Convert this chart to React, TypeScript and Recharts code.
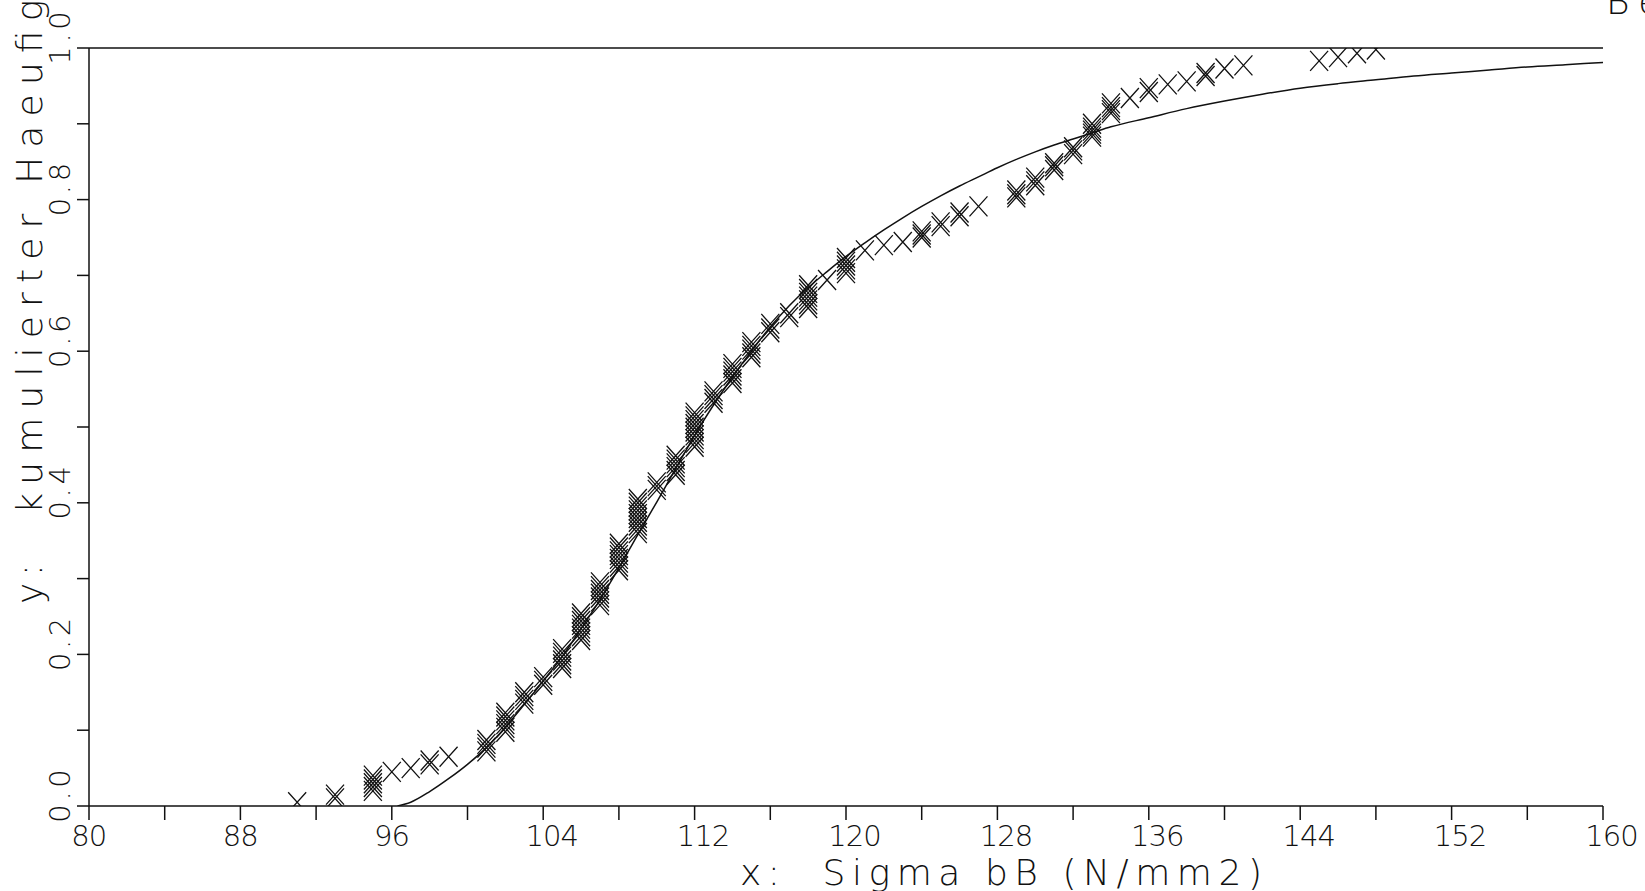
import { ComposedChart, Line, Scatter, XAxis, YAxis, ReferenceLine } from "recharts"

// measured values: one x (N/mm2) per group, cumulative frequencies of the points at that x
const SIGMA = [
  91, 93, 95, 96, 97, 98, 99, 101, 102, 103, 104, 105, 106, 107, 108, 109, 110,
  111, 112, 113, 114, 115, 116, 117, 118, 119, 120, 121, 122, 123, 124, 125, 126,
  127, 129, 130, 131, 132, 133, 134, 135, 136, 137, 138, 139, 140, 141, 145, 146,
  147, 148,
]
const CUM_HAEUF = [
  [0.005],
  [0.01, 0.015],
  [0.02, 0.025, 0.03, 0.035, 0.04],
  [0.045],
  [0.05],
  [0.055, 0.06],
  [0.065],
  [0.072, 0.077, 0.082, 0.087],
  [0.098, 0.103, 0.108, 0.113, 0.118, 0.123],
  [0.135, 0.14, 0.145, 0.15],
  [0.16, 0.165, 0.17],
  [0.182, 0.187, 0.192, 0.197, 0.202, 0.207],
  [0.219, 0.224, 0.229, 0.234, 0.239, 0.244, 0.249, 0.254],
  [0.265, 0.27, 0.275, 0.28, 0.285, 0.29, 0.295],
  [0.311, 0.316, 0.321, 0.326, 0.331, 0.336, 0.341, 0.346],
  [0.36, 0.365, 0.37, 0.375, 0.38, 0.385, 0.39, 0.395, 0.4, 0.405],
  [0.417, 0.422, 0.427],
  [0.437, 0.442, 0.447, 0.452, 0.457, 0.462],
  [0.474, 0.479, 0.484, 0.489, 0.494, 0.499, 0.504, 0.509, 0.514, 0.519],
  [0.532, 0.537, 0.542, 0.547],
  [0.558, 0.563, 0.568, 0.573, 0.578, 0.583],
  [0.592, 0.597, 0.602, 0.607, 0.612],
  [0.625, 0.63, 0.636],
  [0.645, 0.65],
  [0.657, 0.662, 0.667, 0.672, 0.677, 0.682, 0.687],
  [0.694],
  [0.703, 0.708, 0.713, 0.718, 0.723],
  [0.733],
  [0.74],
  [0.744],
  [0.75, 0.754, 0.758],
  [0.765, 0.77],
  [0.778, 0.783],
  [0.791],
  [0.803, 0.807, 0.812],
  [0.819, 0.824, 0.829],
  [0.839, 0.844, 0.848],
  [0.86, 0.865, 0.869],
  [0.883, 0.887, 0.891, 0.895, 0.9],
  [0.914, 0.918, 0.922, 0.927],
  [0.934],
  [0.942, 0.947],
  [0.952],
  [0.956],
  [0.963, 0.967],
  [0.973],
  [0.977],
  [0.983],
  [0.988],
  [0.993],
  [0.998],
]

// fitted distribution curve
const FIT_X = [
  96.3, 97, 98, 99, 100, 101, 102, 103, 104, 105, 106, 107, 108, 109, 110, 111,
  112, 113, 114, 115, 116, 117, 118, 119, 120, 121, 122, 123, 124, 125, 126, 127,
  128, 129, 130, 131, 132, 133, 134, 136, 138, 140, 142, 144, 146, 148, 150, 152,
  154, 156, 158, 160,
]
const FIT_Y = [
  0, 0.005, 0.019, 0.036, 0.055, 0.077, 0.104, 0.134, 0.165, 0.197, 0.234, 0.272,
  0.314, 0.358, 0.401, 0.445, 0.489, 0.529, 0.566, 0.6, 0.632, 0.66, 0.684, 0.705,
  0.725, 0.743, 0.76, 0.776, 0.791, 0.805, 0.818, 0.83, 0.842, 0.853, 0.863, 0.872,
  0.88, 0.888, 0.896, 0.908, 0.92, 0.93, 0.939, 0.947, 0.953, 0.958, 0.963, 0.967,
  0.971, 0.975, 0.978, 0.981,
]

const X_TICKS = [80, 84, 88, 92, 96, 100, 104, 108, 112, 116, 120, 124, 128, 132, 136, 140, 144, 148, 152, 156, 160]
const Y_TICKS = [0, 0.1, 0.2, 0.3, 0.4, 0.5, 0.6, 0.7, 0.8, 0.9, 1.0]

const points = SIGMA.flatMap((x, i) => CUM_HAEUF[i].map((y) => ({ x, y })))
const fit = FIT_X.map((x, i) => ({ x, y: FIT_Y[i] }))

const INK = "#111"
const FONT = "'DejaVu Sans', sans-serif"

// plotter digits: every character centred in a fixed-width cell
const cells = (s: string, first: number, pitch: number) =>
  Array.from(s, (_, i) => (first + i * pitch).toFixed(1)).join(" ")

const Cross = (props: any) => {
  const { cx, cy } = props
  if (cx == null || cy == null) return null
  return (
    <path
      d={`M${cx - 9},${cy - 10}L${cx + 9},${cy + 10}M${cx + 9},${cy - 10}L${cx - 9},${cy + 10}`}
      stroke={INK}
      strokeWidth={1.3}
      fill="none"
    />
  )
}

const XTick = (props: any) => {
  const { x, payload } = props
  if (payload.value % 8 !== 0) return null
  const s = String(payload.value)
  return (
    <text
      x={cells(s, x - 8.5, 17.5)}
      y={846}
      fontFamily={FONT}
      fontWeight={200}
      fontSize={29}
      fill={INK}
      textAnchor="middle"
    >
      {s}
    </text>
  )
}

const YTick = (props: any) => {
  const { y, payload } = props
  if (Math.round(payload.value * 10) % 2 !== 0) return null
  const s = payload.value.toFixed(1)
  return (
    <text
      transform={`translate(70, ${y}) rotate(-90)`}
      x={cells(s, -7.5, 17.5)}
      y={0}
      fontFamily={FONT}
      fontWeight={200}
      fontSize={29}
      fill={INK}
      textAnchor="middle"
    >
      {s}
    </text>
  )
}

const Title = ({ text, transform }: { text: string; transform: string }) => (
  <text
    transform={transform}
    fontFamily={FONT}
    fontWeight={200}
    fontSize={36}
    fill={INK}
    xmlSpace="preserve"
    textLength={text.length * 26.4 - 6}
    lengthAdjust="spacing"
  >
    {text}
  </text>
)

export default function App() {
  return (
    <div style={{ position: "absolute", left: 0, top: 0, width: 1645, height: 891, background: "#fff" }}>
      <ComposedChart width={1645} height={891} margin={{ top: 48, right: 42, bottom: 0, left: 0 }}>
        <XAxis
          dataKey="x"
          type="number"
          domain={[80, 160]}
          ticks={X_TICKS}
          allowDataOverflow
          height={85}
          tickSize={14}
          stroke={INK}
          strokeWidth={1.5}
          tick={<XTick />}
        />
        <YAxis
          type="number"
          domain={[0, 1]}
          ticks={Y_TICKS}
          allowDataOverflow
          width={89}
          tickSize={12}
          stroke={INK}
          strokeWidth={1.5}
          tick={<YTick />}
        />
        <ReferenceLine y={1} stroke={INK} strokeWidth={1.5} />
        <Line
          data={fit}
          dataKey="y"
          type="monotone"
          stroke={INK}
          strokeWidth={1.5}
          dot={false}
          isAnimationActive={false}
        />
        <Scatter data={points} dataKey="y" shape={<Cross />} isAnimationActive={false} />
      </ComposedChart>
      <svg width={1645} height={891} style={{ position: "absolute", left: 0, top: 0, pointerEvents: "none" }}>
        <Title text={"x:  Sigma bB (N/mm2)"} transform="translate(740, 885)" />
        <Title text={"y:  kumulierter Haeufigkeit"} transform="translate(42, 604) rotate(-90)" />
        <Title text="Bei" transform="translate(1606, 14)" />
      </svg>
    </div>
  )
}
